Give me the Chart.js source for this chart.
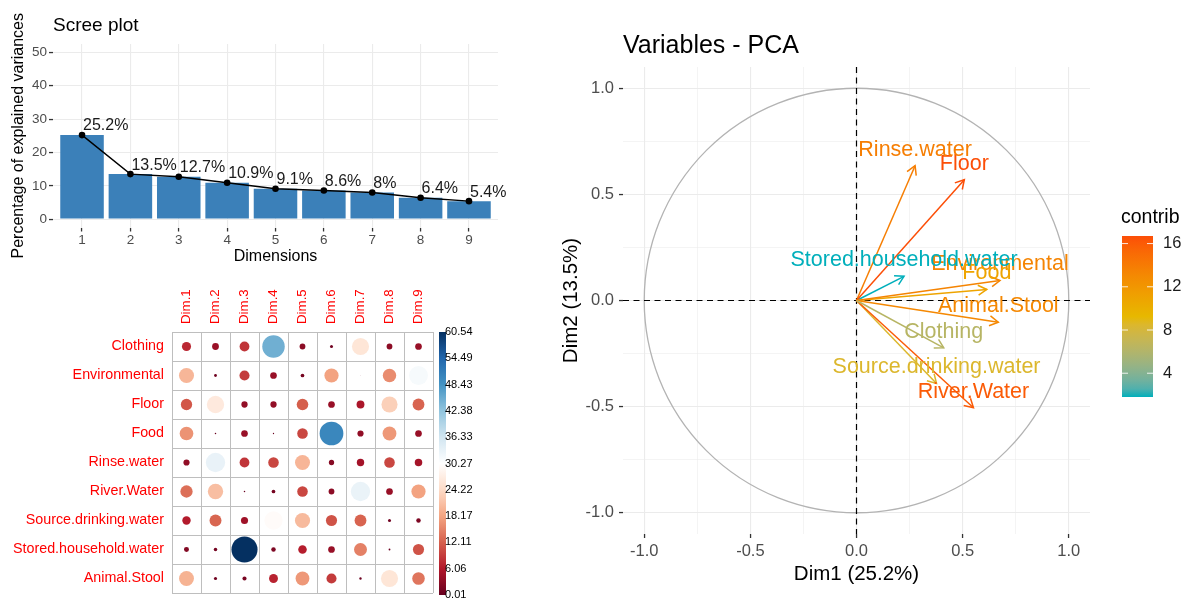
<!DOCTYPE html>
<html>
<head>
<meta charset="utf-8">
<script src="https://cdn.jsdelivr.net/npm/chart.js@4.4.1/dist/chart.umd.min.js"></script>
<style>
  html, body { margin: 0; padding: 0; background: #fff; }
  body { width: 1185px; height: 599px; position: relative; overflow: hidden; }
  canvas { position: absolute; }
  #scree { left: 0; top: 0; }
  #corr { left: 0; top: 280px; }
  #pca { left: 540px; top: 0; }
</style>
</head>
<body>
<canvas id="scree" width="520" height="280"></canvas>
<canvas id="corr" width="480" height="319"></canvas>
<canvas id="pca" width="645" height="599"></canvas>
<script>
// ---------- DATA ----------
const dimNums = [1, 2, 3, 4, 5, 6, 7, 8, 9];
const explainedVar = [25.2, 13.5, 12.7, 10.9, 9.1, 8.6, 8.0, 6.4, 5.4];
const screeTicks = [0, 5, 10, 15, 20, 25, 30, 35, 40, 45, 50];

const varNames = ["Clothing", "Environmental", "Floor", "Food", "Rinse.water",
  "River.Water", "Source.drinking.water", "Stored.household.water", "Animal.Stool"];
const dimLabels = ["Dim.1", "Dim.2", "Dim.3", "Dim.4", "Dim.5", "Dim.6", "Dim.7", "Dim.8", "Dim.9"];

// contributions (%) of each variable, rows in varNames order
const contribDim1 = [7.4, 20.1, 11.4, 16.6, 3.4, 13.4, 6.3, 2.2, 19.7];
const contribDim2 = [4.1, 0.7, 26.6, 0.2, 33.2, 21.0, 12.6, 1.1, 0.9];
const contribDim3 = [8.5, 9.0, 3.5, 4.0, 8.5, 0.2, 4.5, 60.54, 1.5];
const contribDim4 = [45, 4, 3.5, 0.15, 10, 1.2, 29.6, 1.8, 7];
const contribDim5 = [3, 1.2, 12, 10, 20, 10, 20.5, 6.5, 17];
const contribDim6 = [0.8, 18, 4, 50, 2.5, 3, 11, 4, 9];
const contribDim7 = [26, 0.01, 5.5, 3.4, 4.9, 33, 12.5, 15, 0.5];
const contribDim8 = [3, 16, 23, 17, 10, 4, 0.8, 0.3, 26];
const contribDim9 = [4, 31.5, 12.5, 4, 5, 18, 1.8, 11, 14];
const corrBarTicks = [0.01, 6.06, 12.11, 18.17, 24.22, 30.27, 36.33, 42.38, 48.43, 54.49, 60.54];

const pcaX = [0.411, 0.676, 0.508, 0.614, 0.276, 0.551, 0.377, 0.224, 0.668];
const pcaY = [-0.223, 0.094, 0.569, 0.052, 0.635, -0.505, -0.391, 0.114, -0.102];
const contrib12 = [6.3, 13.4, 16.7, 10.9, 13.8, 16.0, 8.5, 1.8, 13.1];
const pcaTicks = [-1, -0.75, -0.5, -0.25, 0, 0.25, 0.5, 0.75, 1];
const contribTicks = [4, 8, 12, 16];

const FONT = "'Liberation Sans', Arial, Helvetica, sans-serif";
Chart.defaults.font.family = FONT;

// ---------- COLOUR HELPERS ----------
function hexToRgb(h) {
  const n = parseInt(h.slice(1), 16);
  return [(n >> 16) & 255, (n >> 8) & 255, n & 255];
}
function rgbToLab(rgb) {
  const lin = c => { c /= 255; return c <= 0.04045 ? c / 12.92 : Math.pow((c + 0.055) / 1.055, 2.4); };
  const R = lin(rgb[0]), G = lin(rgb[1]), B = lin(rgb[2]);
  const X = (R * 0.4124 + G * 0.3576 + B * 0.1805) / 0.95047;
  const Y = R * 0.2126 + G * 0.7152 + B * 0.0722;
  const Z = (R * 0.0193 + G * 0.1192 + B * 0.9505) / 1.08883;
  const f = t => t > 0.008856 ? Math.cbrt(t) : 7.787 * t + 16 / 116;
  return [116 * f(Y) - 16, 500 * (f(X) - f(Y)), 200 * (f(Y) - f(Z))];
}
function labToRgb(lab) {
  const fy = (lab[0] + 16) / 116, fx = fy + lab[1] / 500, fz = fy - lab[2] / 200;
  const inv = t => t * t * t > 0.008856 ? t * t * t : (t - 16 / 116) / 7.787;
  const X = inv(fx) * 0.95047, Y = inv(fy), Z = inv(fz) * 1.08883;
  const R = X * 3.2406 - Y * 1.5372 - Z * 0.4986;
  const G = -X * 0.9689 + Y * 1.8758 + Z * 0.0415;
  const B = X * 0.0557 - Y * 0.2040 + Z * 1.0570;
  const gam = c => { c = c <= 0.0031308 ? 12.92 * c : 1.055 * Math.pow(c, 1 / 2.4) - 0.055; return Math.round(Math.min(1, Math.max(0, c)) * 255); };
  return [gam(R), gam(G), gam(B)];
}
function ramp(hexes, useLab) {
  const stops = hexes.map(h => useLab ? rgbToLab(hexToRgb(h)) : hexToRgb(h));
  return t => {
    t = Math.min(1, Math.max(0, t));
    const s = t * (stops.length - 1);
    const i = Math.min(stops.length - 2, Math.floor(s));
    const f = s - i;
    let c = stops[i].map((v, k) => v + (stops[i + 1][k] - v) * f);
    c = useLab ? labToRgb(c) : c.map(Math.round);
    return `rgb(${c[0]},${c[1]},${c[2]})`;
  };
}
const rdbu = ramp(["#67001F", "#B2182B", "#D6604D", "#F4A582", "#FDDBC7", "#FFFFFF",
  "#D1E5F0", "#92C5DE", "#4393C3", "#2166AC", "#053061"], false);
const contribRamp = ramp(["#00AFBB", "#E7B800", "#FC4E07"], true);

// =================== SCREE PLOT ===================
const screeLabels = {
  id: "screeLabels",
  afterDatasetsDraw(chart) {
    const ctx = chart.ctx;
    const pts = chart.getDatasetMeta(0).data;
    ctx.save();
    ctx.fillStyle = "#1a1a1a";
    ctx.font = `16px ${FONT}`;
    ctx.textAlign = "left";
    ctx.textBaseline = "middle";
    pts.forEach((p, i) => ctx.fillText(explainedVar[i] + "%", p.x + 1, p.y - 9));
    ctx.font = `19px ${FONT}`;
    ctx.fillStyle = "#000";
    ctx.fillText("Scree plot", chart.chartArea.left, 26);
    ctx.restore();
  }
};

const screePoints = dimNums.map((d, i) => ({ x: d, y: explainedVar[i] }));

new Chart(document.getElementById("scree"), {
  type: "bar",
  data: {
    datasets: [
      { type: "line", data: screePoints, borderColor: "#000", borderWidth: 1.4,
        pointRadius: 3.3, pointBackgroundColor: "#000", pointBorderWidth: 0, order: 0 },
      { type: "bar", data: screePoints, backgroundColor: "#3b80b9",
        barPercentage: 0.9, categoryPercentage: 1, order: 1 }
    ]
  },
  options: {
    responsive: false, animation: false, events: [],
    layout: { padding: { left: 0, right: 22, top: 44, bottom: 0 } },
    plugins: { legend: { display: false }, tooltip: { enabled: false } },
    scales: {
      x: {
        type: "linear", min: 0.4, max: 9.6, offset: false,
        afterBuildTicks: s => { s.ticks = dimNums.map(v => ({ value: v })); },
        afterFit: s => { s.height = 52.5; },
        ticks: { color: "#4d4d4d", font: { size: 13.5 }, padding: 0.5, maxRotation: 0 },
        grid: { color: "#ebebeb", lineWidth: 1.1, tickColor: "#333", tickLength: 4, tickWidth: 1.3, offset: false },
        border: { display: false },
        title: { display: true, text: "Dimensions", color: "#000", font: { size: 16 }, padding: { top: 0, bottom: 13.4 } }
      },
      y: {
        type: "linear", min: -2.5, max: 52.5,
        afterBuildTicks: s => { s.ticks = screeTicks.map(v => ({ value: v })); },
        afterFit: s => { s.width = 53; },
        ticks: { color: "#4d4d4d", font: { size: 13.5 }, padding: 2,
          callback: v => (v % 10 === 0 ? String(v) : "") },
        grid: {
          color: "#ebebeb",
          lineWidth: c => (c.tick && c.tick.value % 10 === 0 ? 1.1 : 0.55),
          tickColor: c => (c.tick && c.tick.value % 10 === 0 ? "#333" : "rgba(0,0,0,0)"),
          tickLength: 4, tickWidth: 1.3
        },
        border: { display: false },
        title: { display: true, text: "Percentage of explained variances", color: "#000",
          font: { size: 16 }, padding: { top: 9.4, bottom: 0 } }
      }
    }
  },
  plugins: [screeLabels]
});

// =================== CONTRIBUTION MATRIX ===================
const contribCols = [contribDim1, contribDim2, contribDim3, contribDim4, contribDim5,
  contribDim6, contribDim7, contribDim8, contribDim9];
const corrMin = corrBarTicks[0];
const corrMax = corrBarTicks[corrBarTicks.length - 1];
const corrPoints = [];
contribCols.forEach((col, j) => col.forEach((v, i) => {
  corrPoints.push({ x: dimLabels[j], y: varNames[i], v: v });
}));
const corrColor = v => rdbu((v - corrMin) / (corrMax - corrMin));

const corrExtras = {
  id: "corrExtras",
  afterDraw(chart) {
    const ctx = chart.ctx;
    const area = chart.chartArea;
    const xs = chart.scales.x;
    ctx.save();
    // column labels
    ctx.fillStyle = "#ff0000";
    ctx.font = `13.3px ${FONT}`;
    ctx.textAlign = "left";
    ctx.textBaseline = "middle";
    dimLabels.forEach((lab, j) => {
      ctx.save();
      ctx.translate(xs.getPixelForValue(j), area.top - 8);
      ctx.rotate(-Math.PI / 2);
      ctx.fillText(lab, 0, 0);
      ctx.restore();
    });
    // colour bar
    const bx = area.right + 6, bw = 7, top = area.top, bot = area.bottom + 2;
    const g = ctx.createLinearGradient(0, bot, 0, top);
    for (let k = 0; k <= 20; k++) g.addColorStop(k / 20, rdbu(k / 20));
    ctx.fillStyle = g;
    ctx.fillRect(bx, top, bw, bot - top);
    ctx.fillStyle = "#000";
    ctx.font = `11px ${FONT}`;
    corrBarTicks.forEach(v => {
      const y = bot - (v - corrMin) / (corrMax - corrMin) * (bot - top);
      ctx.fillText(v.toFixed(2), bx + 6, y);
    });
    ctx.restore();
  }
};

new Chart(document.getElementById("corr"), {
  type: "scatter",
  data: {
    datasets: [{
      data: corrPoints,
      pointRadius: c => {
        const xs = c.chart.scales.x;
        const cell = Math.abs(xs.getPixelForValue(1) - xs.getPixelForValue(0));
        return 0.45 * cell * Math.sqrt(c.raw.v / corrMax);
      },
      pointBackgroundColor: c => corrColor(c.raw.v),
      pointBorderWidth: 0
    }]
  },
  options: {
    responsive: false, animation: false, events: [],
    layout: { padding: { left: 0, right: 47, top: 0, bottom: 6 } },
    plugins: { legend: { display: false }, tooltip: { enabled: false } },
    scales: {
      x: {
        type: "category", labels: dimLabels, position: "top", offset: true,
        afterFit: s => { s.height = 52; },
        ticks: { display: false },
        grid: { offset: true, color: "#bebebe", lineWidth: 1, drawTicks: false },
        border: { display: true, color: "#bebebe" }
      },
      y: {
        type: "category", labels: varNames, offset: true,
        afterFit: s => { s.width = 172; s.paddingTop = 0; s.paddingBottom = 0; },
        ticks: { color: "#ff0000", font: { size: 14.3 }, padding: 8 },
        grid: { offset: true, color: "#bebebe", lineWidth: 1, drawTicks: false },
        border: { display: true, color: "#bebebe" }
      }
    }
  },
  plugins: [corrExtras]
});

// =================== VARIABLES - PCA ===================
const cMin = Math.min(...contrib12), cMax = Math.max(...contrib12);
const arrowColor = v => contribRamp((v - cMin) / (cMax - cMin));
const isMajor = v => Math.abs(v * 2 - Math.round(v * 2)) < 1e-6;

const pcaDecor = {
  id: "pcaDecor",
  beforeDatasetsDraw(chart) {
    const { ctx, chartArea: a, scales: { x, y } } = chart;
    const cx = x.getPixelForValue(0), cy = y.getPixelForValue(0);
    ctx.save();
    ctx.strokeStyle = "#b3b3b3";
    ctx.lineWidth = 1.3;
    ctx.beginPath();
    ctx.ellipse(cx, cy, x.getPixelForValue(1) - cx, cy - y.getPixelForValue(1), 0, 0, Math.PI * 2);
    ctx.stroke();
    ctx.strokeStyle = "#000";
    ctx.lineWidth = 1.2;
    ctx.setLineDash([6, 4.5]);
    ctx.beginPath();
    ctx.moveTo(a.left, cy); ctx.lineTo(a.right, cy);
    ctx.moveTo(cx, a.top); ctx.lineTo(cx, a.bottom);
    ctx.stroke();
    ctx.restore();
  },
  afterDatasetsDraw(chart) {
    const { ctx, chartArea: a } = chart;
    ctx.save();
    // arrow heads and labels
    varNames.forEach((name, i) => {
      const pts = chart.getDatasetMeta(i).data;
      const x0 = pts[0].x, y0 = pts[0].y, x1 = pts[1].x, y1 = pts[1].y;
      const ang = Math.atan2(y1 - y0, x1 - x0);
      ctx.strokeStyle = arrowColor(contrib12[i]);
      ctx.lineWidth = 1.5;
      ctx.beginPath();
      ctx.moveTo(x1 - 10 * Math.cos(ang - Math.PI / 6), y1 - 10 * Math.sin(ang - Math.PI / 6));
      ctx.lineTo(x1, y1);
      ctx.lineTo(x1 - 10 * Math.cos(ang + Math.PI / 6), y1 - 10 * Math.sin(ang + Math.PI / 6));
      ctx.stroke();
    });
    ctx.font = `21.5px ${FONT}`;
    ctx.textAlign = "center";
    ctx.textBaseline = "middle";
    varNames.forEach((name, i) => {
      const p = chart.getDatasetMeta(i).data[1];
      ctx.fillStyle = arrowColor(contrib12[i]);
      ctx.fillText(name, p.x, p.y - 16);
    });
    // title
    ctx.textAlign = "left";
    ctx.fillStyle = "#000";
    ctx.font = `25px ${FONT}`;
    ctx.fillText("Variables - PCA", a.left, 46);
    // colour legend
    const lx = a.right + 32, lw = 31, lTop = 236, lBot = 397;
    ctx.font = `19.5px ${FONT}`;
    ctx.fillText("contrib", lx - 1, 218);
    const g = ctx.createLinearGradient(0, lBot, 0, lTop);
    for (let k = 0; k <= 20; k++) g.addColorStop(k / 20, contribRamp(k / 20));
    ctx.fillStyle = g;
    ctx.fillRect(lx, lTop, lw, lBot - lTop);
    ctx.font = `16.5px ${FONT}`;
    contribTicks.forEach(v => {
      const ty = lBot - (v - cMin) / (cMax - cMin) * (lBot - lTop);
      ctx.strokeStyle = "rgba(255,255,255,0.85)";
      ctx.lineWidth = 1;
      ctx.beginPath();
      ctx.moveTo(lx, ty); ctx.lineTo(lx + 6, ty);
      ctx.moveTo(lx + lw - 6, ty); ctx.lineTo(lx + lw, ty);
      ctx.stroke();
      ctx.fillStyle = "#1a1a1a";
      ctx.fillText(String(v), lx + lw + 10, ty);
    });
    ctx.restore();
  }
};

const pcaAxis = (title, size, pad) => ({
  type: "linear", min: -1.1, max: 1.1,
  afterBuildTicks: s => { s.ticks = pcaTicks.map(v => ({ value: v })); },
  afterFit: s => { if (s.isHorizontal()) s.height = size; else s.width = size; },
  ticks: { color: "#4d4d4d", font: { size: 16.5 }, padding: pad, maxRotation: 0,
    callback: v => (isMajor(v) ? v.toFixed(1) : "") },
  grid: {
    color: "#ebebeb",
    lineWidth: c => (c.tick && isMajor(c.tick.value) ? 1.1 : 0.55),
    tickColor: c => (c.tick && isMajor(c.tick.value) ? "#333" : "rgba(0,0,0,0)"),
    tickLength: 4, tickWidth: 1.3
  },
  border: { display: false },
  title: { display: true, text: title, color: "#000", font: { size: 20.5 } }
});

const xAxis = pcaAxis("Dim1 (25.2%)", 65, 3.4);
xAxis.title.padding = { top: 0, bottom: 12.7 };
const yAxis = pcaAxis("Dim2 (13.5%)", 83, 5);
yAxis.title.padding = { top: 19.4, bottom: 0 };

new Chart(document.getElementById("pca"), {
  type: "scatter",
  data: {
    datasets: varNames.map((name, i) => ({
      label: name,
      data: [{ x: 0, y: 0 }, { x: pcaX[i], y: pcaY[i] }],
      showLine: true,
      borderColor: arrowColor(contrib12[i]),
      borderWidth: 1.5,
      pointRadius: 0
    }))
  },
  options: {
    responsive: false, animation: false, events: [],
    layout: { padding: { left: 0, right: 95, top: 67, bottom: 0 } },
    plugins: { legend: { display: false }, tooltip: { enabled: false } },
    scales: { x: xAxis, y: yAxis }
  },
  plugins: [pcaDecor]
});
</script>
</body>
</html>
